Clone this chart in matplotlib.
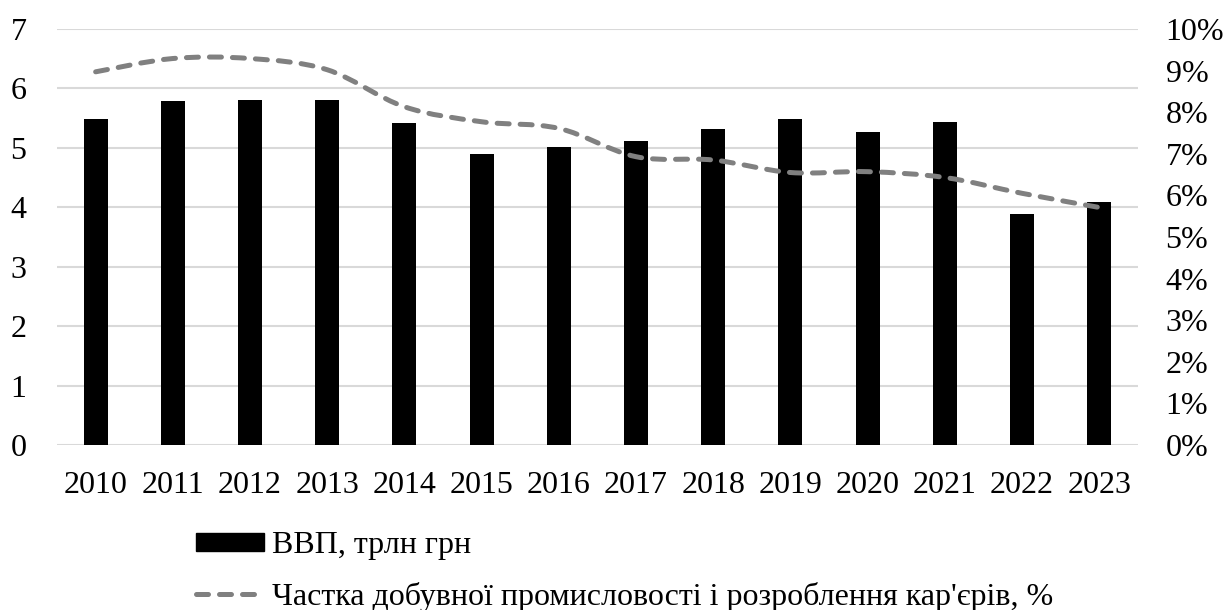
import matplotlib.pyplot as plt
from matplotlib.path import Path
from matplotlib.patches import PathPatch, Patch
from matplotlib.lines import Line2D
from matplotlib.ticker import FuncFormatter

plt.rcParams['font.family'] = ['Liberation Serif', 'DejaVu Serif']

years = ["2010", "2011", "2012", "2013", "2014", "2015", "2016",
         "2017", "2018", "2019", "2020", "2021", "2022", "2023"]
gdp = [5.49, 5.79, 5.81, 5.81, 5.41, 4.89, 5.01,
       5.12, 5.31, 5.48, 5.27, 5.44, 3.88, 4.09]
mining_share = [8.97, 9.29, 9.29, 9.02, 8.13, 7.77, 7.61,
                6.93, 6.85, 6.55, 6.57, 6.43, 6.05, 5.71]

gdp_label = "ВВП, трлн грн"
share_label = "Частка добувної промисловості і розроблення кар'єрів, %"

FS = 23
line_color = "#808080"
grid_color = "#d9d9d9"
line_w = 3.6
dash = (0, (2.4, 2.2))

fig = plt.figure(figsize=(12.24, 6.10), dpi=100)
ax = fig.add_axes([0.0466, 0.2705, 0.883, 0.682])
ax2 = ax.twinx()

x = list(range(len(years)))
ax.bar(x, gdp, width=0.31, color="black", zorder=2)
ax.set_xlim(-0.5, len(years) - 0.5)
ax.set_ylim(0, 7)
ax.set_yticks(range(0, 8))
ax.yaxis.grid(True, color=grid_color, linewidth=1.5, zorder=0)
ax.set_axisbelow(True)
ax.set_xticks(x)
ax.set_xticklabels(years)
ax.tick_params(axis="both", length=0, labelsize=FS)
ax.tick_params(axis="x", pad=19)
ax.tick_params(axis="y", pad=22)

# smoothed share curve (cubic Bezier through each point)
verts = [(x[0], mining_share[0])]
codes = [Path.MOVETO]
n = len(x)
for i in range(n - 1):
    p0 = (x[max(i - 1, 0)], mining_share[max(i - 1, 0)])
    p1 = (x[i], mining_share[i])
    p2 = (x[i + 1], mining_share[i + 1])
    p3 = (x[min(i + 2, n - 1)], mining_share[min(i + 2, n - 1)])
    c1 = (p1[0] + (p2[0] - p0[0]) / 6, p1[1] + (p2[1] - p0[1]) / 6)
    c2 = (p2[0] - (p3[0] - p1[0]) / 6, p2[1] - (p3[1] - p1[1]) / 6)
    verts += [c1, c2, p2]
    codes += [Path.CURVE4] * 3
curve = PathPatch(Path(verts, codes), fill=False, edgecolor=line_color,
                  linewidth=line_w, linestyle=dash, capstyle="round")
ax2.add_patch(curve)
ax2.set_ylim(0, 10)
ax2.set_yticks(range(0, 11))
ax2.yaxis.set_major_formatter(FuncFormatter(lambda v, p: f"{int(v)}%"))
ax2.tick_params(axis="y", length=0, labelsize=FS, pad=20)

for a in (ax, ax2):
    for s in a.spines.values():
        s.set_visible(False)

handles = [Patch(facecolor="black", edgecolor="black"),
           Line2D([], [], color=line_color, linewidth=line_w,
                  linestyle=dash, dash_capstyle="round")]
fig.legend(handles, [gdp_label, share_label], loc="upper left",
           bbox_to_anchor=(0.160, 0.129), frameon=False, fontsize=FS,
           handlelength=2.13, handleheight=0.5, handletextpad=0.25,
           labelspacing=0.67, borderpad=0, borderaxespad=0)

fig.savefig("out.png", dpi=100)
